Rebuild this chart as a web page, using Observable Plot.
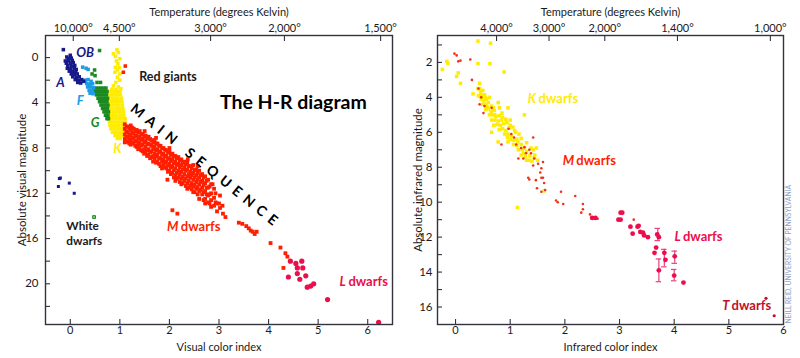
<!DOCTYPE html>
<html><head><meta charset="utf-8">
<script src="https://cdn.jsdelivr.net/npm/d3@7"></script>
<script src="https://cdn.jsdelivr.net/npm/@observablehq/plot@0.6"></script>
<style>
body{margin:0;background:#fff}
#wrap{display:flex;width:800px;height:358px;overflow:hidden}
</style>
</head><body><div id="wrap"></div><script>
// ---------- LEFT PANEL DATA (visual color index, absolute visual magnitude) ----------
const leftXTicks=[0,1,2,3,4,5,6];
const leftYTicks=[0,2,4,6,8,10,12,14,16,18,20,22];
const leftYLabels=[0,4,8,12,16,20];
const leftTempPos=[0.06,0.99,2.83,4.32,6.26];
const leftTempLabels=["10,000°","4,500°","3,000°","2,000°","1,500°"];

const leftA=[[-0.14,-0.7],[-0.07,-0.05],[0,-0.2],[-0.04,0.1],[0.02,0.05],[-0.1,0.3],[-0.03,0.3],[0.04,0.25],[-0.08,0.5],[0,0.5],[0.06,0.45],[-0.05,0.7],[0.02,0.75],[0.09,0.7],[-0.06,0.95],[0.01,1.0],[0.08,0.95],[0.12,1.05],[-0.02,1.2],[0.05,1.25],[0.11,1.3],[0.02,1.45],[0.08,1.5],[0.14,1.45],[0.05,1.7],[0.12,1.75],[0.18,1.7],[0.1,1.95],[0.17,2.0],[0.23,1.95],[0.15,2.2],[0.21,2.25],[0.27,2.1]];
const leftF=[[0.25,0.85],[0.32,0.95],[0.36,1.05],[0.3,2.0],[0.36,1.95],[0.42,2.1],[0.33,2.3],[0.39,2.35],[0.45,2.3],[0.35,2.6],[0.41,2.6],[0.47,2.65],[0.38,2.9],[0.44,2.9],[0.4,3.15],[0.46,3.2]];
const leftG=[[0.59,-0.62],[0.49,1.1],[0.44,1.45],[0.5,1.6],[0.54,2.2],[0.61,2.2],
[0.47,2.7],[0.52,2.7],[0.57,2.7],[0.62,2.7],[0.67,2.7],[0.72,2.7],
[0.5,3.0],[0.55,3.0],[0.6,3.0],[0.65,3.0],[0.7,3.0],[0.74,3.0],
[0.53,3.3],[0.58,3.3],[0.63,3.3],[0.68,3.3],[0.73,3.3],
[0.56,3.6],[0.61,3.6],[0.66,3.6],[0.71,3.6],[0.75,3.6],
[0.59,3.9],[0.64,3.9],[0.69,3.9],[0.74,3.9],
[0.62,4.2],[0.67,4.2],[0.72,4.2],[0.76,4.2],
[0.65,4.5],[0.7,4.5],[0.75,4.5],
[0.68,4.8],[0.73,4.8],[0.77,4.8],
[0.71,5.1],[0.76,5.1],[0.74,5.4],[0.77,5.4]];
const leftK=[[0.94,-0.68],[0.87,-0.33],[0.97,-0.45],[0.91,-0.1],[1.0,0.1],[0.93,0.3],[0.96,0.56],[0.91,0.86],[0.99,0.9],[0.95,1.1],[0.9,1.3],[1.0,1.45],[0.95,1.74],[1.0,2.0],[0.92,2.2],[0.87,2.5],[0.97,2.6],[0.84,2.8],[0.92,2.85],[1.02,2.75],
[0.76,3.0],[0.82,3.0],[0.88,3.0],[0.94,3.0],[1.0,3.0],
[0.77,3.3],[0.83,3.3],[0.89,3.3],[0.95,3.3],[1.01,3.3],
[0.78,3.6],[0.84,3.6],[0.9,3.6],[0.96,3.6],[1.03,3.6],
[0.79,3.9],[0.85,3.9],[0.91,3.9],[0.97,3.9],[1.04,3.9],
[0.79,4.2],[0.86,4.2],[0.92,4.2],[0.98,4.2],[1.05,4.2],
[0.8,4.5],[0.86,4.5],[0.93,4.5],[0.99,4.5],[1.06,4.5],
[0.8,4.8],[0.87,4.8],[0.93,4.8],[1.0,4.8],[1.07,4.8],
[0.81,5.1],[0.87,5.1],[0.94,5.1],[1.01,5.1],[1.08,5.1],
[0.8,5.4],[0.86,5.4],[0.92,5.4],[0.99,5.4],[1.05,5.4],[1.11,5.4],
[0.79,5.7],[0.85,5.7],[0.91,5.7],[0.98,5.7],[1.04,5.7],[1.1,5.7],
[0.8,6.0],[0.86,6.0],[0.92,6.0],[0.98,6.0],[1.05,6.0],
[0.82,6.3],[0.88,6.3],[0.94,6.3],[1.0,6.3],[1.06,6.3],
[0.85,6.6],[0.91,6.6],[0.97,6.6],[1.03,6.6],[1.08,6.6],
[0.9,6.9],[0.96,6.9],[1.02,6.9],[1.07,6.9],[0.95,7.15],[1.01,7.15]];
const leftGiants=[[1.11,0.75],[1.07,1.3]];
const leftM=[[1.10,5.9],[1.10,6.3],[1.10,6.8],[1.10,7.2],[1.10,7.5],
[1.16,6.1],[1.16,6.6],[1.16,7.0],[1.16,7.4],
[1.22,6.0],[1.22,6.4],[1.22,6.9],[1.22,7.3],[1.22,7.7],
[1.28,6.3],[1.28,6.7],[1.28,7.1],[1.28,7.6],
[1.34,6.4],[1.34,6.9],[1.34,7.4],[1.34,7.9],
[1.40,6.5],[1.40,7.0],[1.40,7.5],[1.40,8.0],
[1.46,6.8],[1.46,7.2],[1.46,7.7],[1.46,8.3],
[1.52,6.9],[1.52,7.4],[1.52,7.9],[1.52,8.4],
[1.58,7.0],[1.58,7.6],[1.58,8.1],[1.58,8.6],
[1.64,7.3],[1.64,7.8],[1.64,8.3],[1.64,8.8],
[1.70,7.3],[1.70,7.9],[1.70,8.5],[1.70,9.0],
[1.76,7.6],[1.76,8.1],[1.76,8.6],[1.76,9.2],
[1.82,7.8],[1.82,8.3],[1.82,8.9],[1.82,9.6],
[1.88,8.0],[1.88,8.5],[1.88,9.0],[1.88,9.5],
[1.94,8.2],[1.94,8.7],[1.94,9.2],[1.94,9.8],
[2.00,8.3],[2.00,8.9],[2.00,9.4],[2.00,10.0],
[2.06,8.5],[2.06,9.0],[2.06,9.6],[2.06,10.2],
[2.12,8.7],[2.12,9.2],[2.12,9.8],[2.12,10.4],[2.12,10.9],
[2.18,8.8],[2.18,9.4],[2.18,10.0],[2.18,10.6],
[2.24,9.0],[2.24,9.5],[2.24,10.1],[2.24,10.7],[2.24,11.2],
[2.30,9.2],[2.30,9.7],[2.30,10.3],[2.30,10.9],
[2.36,9.3],[2.36,9.9],[2.36,10.5],[2.36,11.1],[2.36,11.6],
[2.42,9.6],[2.42,10.1],[2.42,10.6],[2.42,11.3],
[2.48,9.5],[2.48,10.2],[2.48,10.8],[2.48,11.4],[2.48,11.9],
[2.54,9.9],[2.54,10.4],[2.54,11.0],[2.54,11.6],
[2.60,10.0],[2.60,10.6],[2.60,11.2],[2.60,11.8],[2.60,12.5],
[2.66,10.3],[2.66,10.9],[2.66,11.5],[2.66,12.1],
[2.72,10.5],[2.72,11.1],[2.72,11.8],[2.72,12.5],[2.72,12.9],
[2.78,10.8],[2.78,11.5],[2.78,12.2],[2.78,12.8],
[2.84,11.2],[2.84,12.0],[2.84,12.6],[2.84,13.2],
[2.90,11.6],[2.90,12.4],[2.90,13.1],[2.96,12.9],[2.96,13.6],[3.02,12.2],[3.02,13.3],[3.08,13.8],[2.87,11.2],[3.07,13.1],[3.0,12.9],
[1.13,6.1],[1.13,6.55],[1.13,7.0],[1.13,7.45],
[1.19,6.25],[1.19,6.8],[1.19,7.25],[1.19,7.6],
[1.25,6.2],[1.25,6.65],[1.25,7.1],[1.25,7.5],
[1.31,6.5],[1.31,6.95],[1.31,7.35],[1.31,7.8],
[1.37,6.6],[1.37,7.15],[1.37,7.65],[1.37,8.1],
[1.43,6.75],[1.43,7.25],[1.43,7.75],[1.43,8.2],
[1.49,7.0],[1.49,7.5],[1.49,8.1],[1.49,8.5],
[1.55,7.15],[1.55,7.65],[1.55,8.2],[1.55,8.7],
[1.61,7.2],[1.61,7.7],[1.61,8.35],[1.61,8.9],
[1.67,7.5],[1.67,8.1],[1.67,8.7],[1.67,9.2],
[1.73,7.6],[1.73,8.2],[1.73,8.75],[1.73,9.3],
[1.79,7.8],[1.79,8.35],[1.79,8.9],[1.79,9.4],
[1.85,8.0],[1.85,8.6],[1.85,9.2],[1.85,9.8],
[1.91,8.15],[1.91,8.75],[1.91,9.3],[1.91,9.7],
[1.97,8.4],[1.97,8.95],[1.97,9.55],[1.97,10.1],
[2.03,8.6],[2.03,9.15],[2.03,9.7],[2.03,10.3],
[2.09,8.75],[2.09,9.35],[2.09,9.95],[2.09,10.6],
[2.15,8.9],[2.15,9.5],[2.15,10.2],[2.15,10.7],
[2.21,9.1],[2.21,9.7],[2.21,10.35],[2.21,11.0],
[2.27,9.3],[2.27,9.9],[2.27,10.55],[2.27,11.1],
[2.33,9.45],[2.33,10.0],[2.33,10.7],[2.33,11.35],
[2.39,9.6],[2.39,10.3],[2.39,10.9],[2.39,11.5],
[2.45,9.8],[2.45,10.4],[2.45,11.1],[2.45,11.65],
[2.51,9.95],[2.51,10.6],[2.51,11.25],[2.51,11.9],
[2.57,10.2],[2.57,10.8],[2.57,11.45],[2.57,12.1],
[2.63,10.4],[2.63,11.0],[2.63,11.7],
[2.69,10.6],[2.69,11.25],[2.69,11.9],[2.69,12.6],
[2.75,10.9],[2.75,11.5],[2.75,12.1],
[2.81,11.4],[2.81,12.1],[2.81,12.9],[2.93,12.0],[2.93,12.8],
[1.73,7.1],[2.0,8.0],[2.37,9.0],[2.57,9.6],[1.5,6.5],
[1.96,10.8],[2.06,13.5],[2.16,13.8],[3.13,14.1],
[3.40,14.6],[3.47,14.7],[3.55,14.9],[3.60,15.1],[3.64,15.3],[3.68,15.4],[3.72,15.6],[3.76,15.4],
[4.04,16.4],[4.24,16.8],[4.34,17.3],[4.38,17.6],[4.30,18.6]];
const leftWhite=[[-0.22,10.7],[-0.2,10.65],[-0.24,11.4],[-0.02,11.1],[0.08,12.0]];
const leftWhiteGreen=[[0.48,14.1]];
const leftL=[[4.44,18.0],[4.55,18.2],[4.67,18.0],[4.58,18.6],[4.69,18.6],[4.4,19.4],[4.58,19.1],[4.75,19.3],[4.63,19.6],[4.78,20.3],[4.85,20.2],[4.91,20.0],[5.19,21.4],[6.22,23.4]];

// ---------- RIGHT PANEL DATA (infrared color index, absolute infrared magnitude) ----------
const rightXTicks=[0,1,2,3,4,5,6];
const rightYTicks=[1,2,3,4,5,6,7,8,9,10,11,12,13,14,15,16];
const rightYLabels=[2,4,6,8,10,12,14,16];
const rightTempPos=[0.75,1.71,2.73,4.06,5.76];
const rightTempLabels=["4,000°","3,000°","2,000°","1,400°","1,000°"];

const rightK=[[0.41,0.78],[0.64,0.9],[-0.16,1.94],[-0.14,2.05],[-0.24,2.4],[0.41,2.07],[0.63,2.07],[0.05,2.6],[0.02,2.8],[0.89,2.55],[0.09,3.2],[0.44,3.2],[0.32,3.8],[0.41,3.5],
[0.44,3.5],[0.46,3.7],[0.5,3.6],[0.42,3.9],[0.48,3.9],[0.53,3.85],[0.47,4.1],[0.52,4.2],[0.57,4.1],[0.62,4.0],[0.5,4.4],[0.56,4.4],[0.6,4.3],[0.66,4.5],[0.55,4.7],[0.6,4.65],[0.65,4.8],[0.71,4.75],[0.78,4.3],[0.62,5.0],[0.68,5.0],[0.74,5.1],[0.8,4.6],[0.96,4.6],[0.66,5.3],[0.72,5.3],[0.78,5.35],[0.84,5.3],[0.7,5.6],[0.76,5.55],[0.82,5.6],[0.88,5.5],[0.94,5.45],[1.26,5.0],[0.8,5.85],[0.86,5.8],[0.92,5.9],[0.98,5.75],[1.05,5.7],[0.66,6.0],[0.9,6.1],[0.96,6.1],[1.02,6.2],[1.1,6.0],[1.16,6.1],[1.0,6.4],[1.06,6.45],[1.12,6.4],[1.2,6.35],[0.78,6.55],[0.96,6.55],[1.06,6.7],[1.12,6.75],[1.2,6.7],[1.3,6.6],[1.38,6.9],[1.15,7.0],[1.22,7.0],[1.3,7.1],[1.42,7.0],[1.48,6.9],[1.2,7.3],[1.28,7.4],[1.36,7.35],[1.45,7.3],[1.3,7.6],[1.4,7.65],[1.5,7.6],[1.62,9.35],[1.13,10.3],[0.85,4.9],[1.0,5.3],
[0.45,3.95],[0.54,4.0],[0.58,4.55],[0.69,4.6],[0.72,5.0],[0.8,5.05],[0.86,5.15],[0.92,5.25],[1.0,5.6],[1.08,5.9],[0.95,6.3],[1.14,6.55],[1.26,6.9],[1.35,7.6],[1.44,7.45],[1.24,7.2]];
const rightM=[[-0.02,1.5],[0.02,1.6],[0.05,1.94],[0.09,1.9],[0.27,1.83],[0.3,3.0],[0.42,3.5],[0.47,4.0],[0.44,4.4],[0.53,4.5],[0.66,4.6],[0.51,4.9],[0.97,5.8],[1.02,6.1],[1.07,6.3],[1.11,6.7],[1.2,6.9],[1.26,6.85],[1.29,7.2],[1.35,7.0],[1.38,7.2],[1.42,7.9],[1.51,7.8],[1.57,8.06],[1.6,7.7],[1.44,7.5],[1.33,8.6],[1.57,8.6],[1.42,6.3],[0.84,6.7],[1.15,7.5],[1.24,7.5],[1.55,8.3],
[1.35,8.7],[1.47,8.74],[1.49,9.2],[1.6,8.6],[1.62,8.9],[1.64,9.3],[1.57,9.4],[1.93,9.4],[1.84,9.9],[1.87,10.0],[1.97,10.1],[2.19,9.65],[2.33,10.1],[2.33,10.4],[2.3,10.6],[2.46,10.7],[2.6,10.95],[3.26,11.0]];
const rightL=[[2.5,10.9],[2.56,10.9],[3.02,10.6],[3.05,10.6],[2.98,11.0],[3.02,11.0],[3.2,11.4],[3.24,11.8],[3.35,11.35],[3.33,11.4],[3.38,11.7],[3.43,11.75],[3.45,11.9],[3.52,12.0],[3.69,11.85],[3.72,12.0],[3.64,12.9],[3.67,12.6],[3.82,12.9],[3.84,13.3],[4.01,13.1],[3.72,13.9],[4.0,14.2],[4.17,14.6]];
const rightErr=[[3.7,11.85,11.5,12.2],[3.82,12.9,12.7,13.7],[4.01,13.1,12.8,13.5],[3.72,13.9,13.25,14.55],[4.0,14.2,13.85,14.5]];
const rightT=[[5.68,15.5],[5.83,16.5]];

// ---------- COLOURS ----------
const NAVY="#161a8a", LBLUE="#1c9be6", GREEN="#1b8a22", YELLOW="#ffec00", RED="#ff1f00", CRIMSON="#ec0e4c", DARKRED="#c0112b", INK="#1a1a1a", FRAME="#333340";
const FONT="Lato, 'Open Sans', sans-serif";

function panel(cfg){
  const W=400,H=358;
  const fw=W-cfg.ml-cfg.mr, fh=H-cfg.mt-cfg.mb;
  const tmap=new Map(cfg.tempPos.map((p,i)=>[p,cfg.tempLabels[i]]));
  return Plot.plot({
    width:W,height:H,marginLeft:cfg.ml,marginRight:cfg.mr,marginTop:cfg.mt,marginBottom:cfg.mb,
    style:{fontFamily:FONT,fontSize:"11px",color:INK,background:"#fff",overflow:"visible"},
    x:{domain:cfg.xd}, y:{domain:cfg.yd,reverse:true},
    marks:[
      Plot.ruleX(cfg.xTicks,{x:d=>d,insetTop:fh-5,stroke:FRAME,strokeWidth:1.1}),
      Plot.ruleX(cfg.tempPos,{x:d=>d,insetBottom:fh-6,stroke:FRAME,strokeWidth:1.1}),
      Plot.ruleY(cfg.yTicks,{y:d=>d,insetRight:fw-5,stroke:FRAME,strokeWidth:1.1}),
      Plot.axisX(cfg.xTicks,{anchor:"bottom",tickSize:0,tickPadding:2,fontSize:11,label:cfg.xLabel,labelAnchor:"center",labelOffset:26,labelArrow:"none"}),
      Plot.axisX(cfg.tempPos,{anchor:"top",tickSize:0,tickPadding:4,fontSize:11,tickFormat:d=>tmap.get(d),label:"Temperature (degrees Kelvin)",labelAnchor:"center",labelOffset:27,labelArrow:"none"}),
      Plot.axisY(cfg.yLabels,{anchor:"left",tickSize:0,tickPadding:cfg.ytp,fontSize:11.5,label:cfg.yLabel,labelAnchor:"center",labelOffset:cfg.ylo,labelArrow:"none"}),
      ...cfg.marks,
      Plot.frame({stroke:FRAME,strokeWidth:1.4})
    ]
  });
}

const sq={symbol:"square",r:2};
const lbl=(t,x,y,fill,o={})=>Plot.text([t],{x,y,fill,fontWeight:"bold",fontSize:13,...o});

const left=panel({
  ml:45,mr:8,mt:35,mb:34,xd:[-0.5,6.5],yd:[-1.95,23.6],
  xTicks:leftXTicks,yTicks:leftYTicks,yLabels:leftYLabels,tempPos:leftTempPos,tempLabels:leftTempLabels,
  xLabel:"Visual color index",yLabel:"Absolute visual magnitude",ytp:7,ylo:28,
  marks:[
    Plot.dot(leftK,{x:d=>d[0],y:d=>d[1],fill:YELLOW,...sq}),
    Plot.dot(leftG,{x:d=>d[0],y:d=>d[1],fill:GREEN,...sq}),
    Plot.dot(leftF,{x:d=>d[0],y:d=>d[1],fill:LBLUE,...sq}),
    Plot.dot(leftA,{x:d=>d[0],y:d=>d[1],fill:NAVY,...sq}),
    Plot.dot(leftM,{x:d=>d[0],y:d=>d[1],fill:RED,symbol:"square",r:2.15}),
    Plot.dot(leftGiants,{x:d=>d[0],y:d=>d[1],fill:RED,...sq}),
    Plot.dot(leftWhite,{x:d=>d[0],y:d=>d[1],fill:NAVY,symbol:"square",r:1.7}),
    Plot.dot(leftWhiteGreen,{x:d=>d[0],y:d=>d[1],fill:"#7fd07f",stroke:GREEN,strokeWidth:1,symbol:"square",r:1.6}),
    Plot.dot(leftL,{x:d=>d[0],y:d=>d[1],fill:CRIMSON,r:2.6}),
    lbl("OB",0.3,-0.45,NAVY,{fontStyle:"italic"}),
    lbl("A",-0.2,2.2,NAVY,{fontStyle:"italic"}),
    lbl("F",0.2,3.8,LBLUE,{fontStyle:"italic"}),
    lbl("G",0.5,5.75,GREEN,{fontStyle:"italic"}),
    lbl("K",0.95,8.05,YELLOW,{fontStyle:"italic"}),
    lbl("Red giants",1.39,1.7,INK,{textAnchor:"start",fontSize:12.5}),
    lbl("White",-0.08,14.92,INK,{textAnchor:"start",fontSize:11.8}),
    lbl("dwarfs",-0.08,16.28,INK,{textAnchor:"start",fontSize:11.8}),
    lbl("The H-R diagram",4.5,3.98,"#000",{fontSize:19.5}),
    lbl("MAIN SEQUENCE",2.74,9.63,"#000",{fontSize:14,rotate:39}),
    lbl("M",2.18,14.93,RED,{textAnchor:"end",fontStyle:"italic"}),
    lbl("dwarfs",2.23,14.93,RED,{textAnchor:"start"}),
    lbl("L",5.56,19.8,CRIMSON,{textAnchor:"end",fontStyle:"italic"}),
    lbl("dwarfs",5.61,19.8,CRIMSON,{textAnchor:"start"})
  ]
});

const right=panel({
  ml:37,mr:17,mt:35,mb:34,xd:[-0.33,6.0],yd:[0.46,17.0],
  xTicks:rightXTicks,yTicks:rightYTicks,yLabels:rightYLabels,tempPos:rightTempPos,tempLabels:rightTempLabels,
  xLabel:"Infrared color index",yLabel:"Absolute infrared magnitude",ytp:5,ylo:24,
  marks:[
    Plot.dot(rightK,{x:d=>d[0],y:d=>d[1],fill:YELLOW,...sq}),
    Plot.dot(rightM,{x:d=>d[0],y:d=>d[1],fill:"#f0301a",r:1.3}),
    Plot.ruleX(rightErr,{x:d=>d[0],y1:d=>d[2],y2:d=>d[3],stroke:"#e8407e",strokeWidth:1.2}),
    Plot.ruleY(rightErr,{y:d=>d[2],x1:d=>d[0]-0.05,x2:d=>d[0]+0.05,stroke:"#e8407e",strokeWidth:1.2}),
    Plot.ruleY(rightErr,{y:d=>d[3],x1:d=>d[0]-0.05,x2:d=>d[0]+0.05,stroke:"#e8407e",strokeWidth:1.2}),
    Plot.dot(rightL,{x:d=>d[0],y:d=>d[1],fill:CRIMSON,r:2.4}),
    Plot.dot(rightT,{x:d=>d[0],y:d=>d[1],fill:DARKRED,r:1.6}),
    lbl("K",1.475,4.06,YELLOW,{textAnchor:"end",fontStyle:"italic"}),
    lbl("dwarfs",1.52,4.06,YELLOW,{textAnchor:"start"}),
    lbl("M",2.17,7.66,RED,{textAnchor:"end",fontStyle:"italic"}),
    lbl("dwarfs",2.21,7.66,RED,{textAnchor:"start"}),
    lbl("L",4.12,12.0,CRIMSON,{textAnchor:"end",fontStyle:"italic"}),
    lbl("dwarfs",4.16,12.0,CRIMSON,{textAnchor:"start"}),
    lbl("T",5.01,15.94,DARKRED,{textAnchor:"end",fontStyle:"italic"}),
    lbl("dwarfs",5.05,15.94,DARKRED,{textAnchor:"start"}),
    Plot.text(["NEILL REID, UNIVERSITY OF PENNSYLVANIA"],{frameAnchor:"bottom-right",dx:7,dy:-1,rotate:-90,textAnchor:"start",fontSize:6.8,fill:"#8ea3c6"})
  ]
});

d3.select(left).selectAll("text").filter(function(){return this.textContent==="MAIN SEQUENCE";}).attr("letter-spacing","5.8");
document.getElementById("wrap").append(left,right);
</script></body></html>
